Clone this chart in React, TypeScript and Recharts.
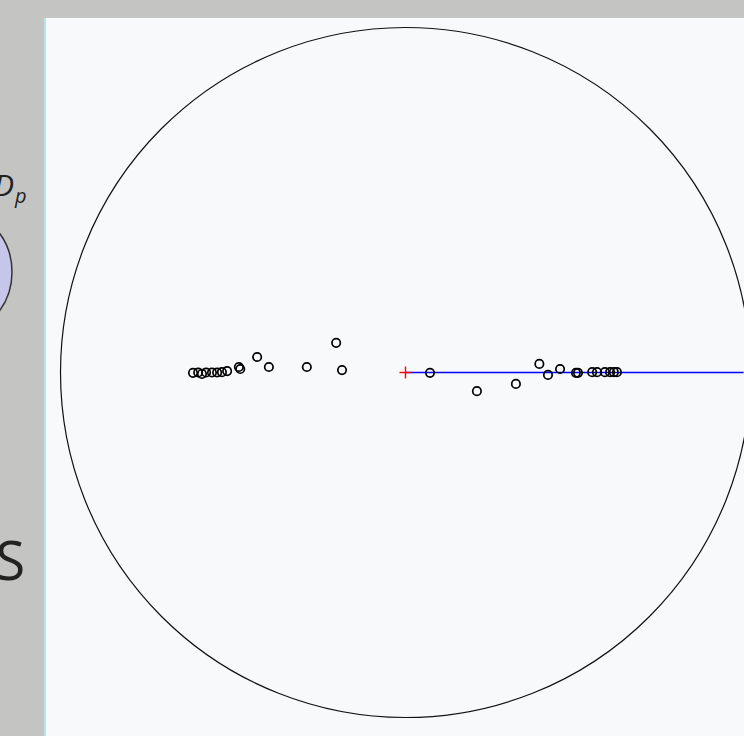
import React from "react";
import { ScatterChart, Scatter, XAxis, YAxis, ReferenceDot, ReferenceLine } from "recharts";

// Stereonet-like projection: centre at (0,0), primitive circle radius 100
const pointX = [
  -61.6, -60.1, -59.0, -57.8, -56.1, -54.6, -53.2, -51.7, -48.3, -47.9, -43.0, -39.6, -28.6, -20.1, -18.4,
  7.1, 20.7, 32.0, 38.8, 41.3, 44.8, 49.4, 50.0, 54.1, 55.5, 57.8, 59.3, 60.4, 61.3,
];
const pointY = [
  -0.1, 0, -0.4, 0, 0, 0, 0.1, 0.4, 1.6, 1.0, 4.5, 1.6, 1.6, 8.6, 0.7,
  -0.1, -5.4, -3.3, 2.5, -0.7, 1.0, -0.1, -0.1, 0.1, 0.1, 0.1, 0.1, 0.1, 0.1,
];
const centre = [{ x: 0, y: 0 }];
const primitiveRadius = 100;
const vectorEnd = 98;

const points = pointX.map((x, i) => ({ x, y: pointY[i] }));

const W = 744;
const H = 736;
const PX_PER_UNIT = 3.45;

const Marker = (props: any) => {
  const { cx, cy } = props;
  return <circle cx={cx} cy={cy} r={4.2} fill="none" stroke="#000" strokeWidth={1.7} />;
};

const CrossMarker = (props: any) => {
  const { cx, cy } = props;
  return (
    <g stroke="#ff0000" strokeWidth={1.4}>
      <line x1={cx - 6} y1={cy} x2={cx + 6} y2={cy} />
      <line x1={cx} y1={cy - 6} x2={cx} y2={cy + 6} />
    </g>
  );
};

export default function App() {
  return (
    <div style={{ position: "absolute", left: 0, top: 0, width: W, height: H, background: "#c4c5c3", overflow: "hidden" }}>
      <svg width={60} height={H} style={{ position: "absolute", left: 0, top: 0 }}>
        <ellipse cx={-45} cy={272} rx={57} ry={62} fill="#c5c6e8" stroke="#333" strokeWidth={1.5} />
        <text x={14} y={196} fontSize={30} fontStyle="italic" fontFamily="Open Sans, DejaVu Sans, sans-serif" textAnchor="end" fill="#222">D</text>
        <text x={15} y={203} fontSize={20} fontStyle="italic" fontFamily="Open Sans, DejaVu Sans, sans-serif" fill="#222">p</text>
        <text x={25} y={580} fontSize={54} fontFamily="Open Sans, DejaVu Sans, sans-serif" textAnchor="end" fill="#222">S</text>
      </svg>
      <div style={{ position: "absolute", left: 44, top: 18, width: W - 44, height: H - 18, background: "#f8f9fb", borderLeft: "2px solid #b5e6ec", boxSizing: "border-box" }} />
      <div style={{ position: "absolute", left: 0, top: 0 }}>
        <ScatterChart width={W} height={H} margin={{ top: 0, right: 0, bottom: 0, left: 0 }}>
          <XAxis type="number" dataKey="x" hide domain={[-405.5 / PX_PER_UNIT, (W - 405.5) / PX_PER_UNIT]} allowDataOverflow />
          <YAxis type="number" dataKey="y" hide domain={[-(H - 372.5) / PX_PER_UNIT, 372.5 / PX_PER_UNIT]} allowDataOverflow />
          <ReferenceDot x={0} y={0} r={primitiveRadius * PX_PER_UNIT} fill="none" stroke="#111" strokeWidth={1.2} ifOverflow="visible" />
          <ReferenceLine segment={[{ x: 0, y: 0 }, { x: vectorEnd, y: 0 }]} stroke="#0000ff" strokeWidth={1.4} ifOverflow="visible" />
          <Scatter data={points} shape={<Marker />} isAnimationActive={false} />
          <Scatter data={centre} shape={<CrossMarker />} isAnimationActive={false} />
        </ScatterChart>
      </div>
    </div>
  );
}
